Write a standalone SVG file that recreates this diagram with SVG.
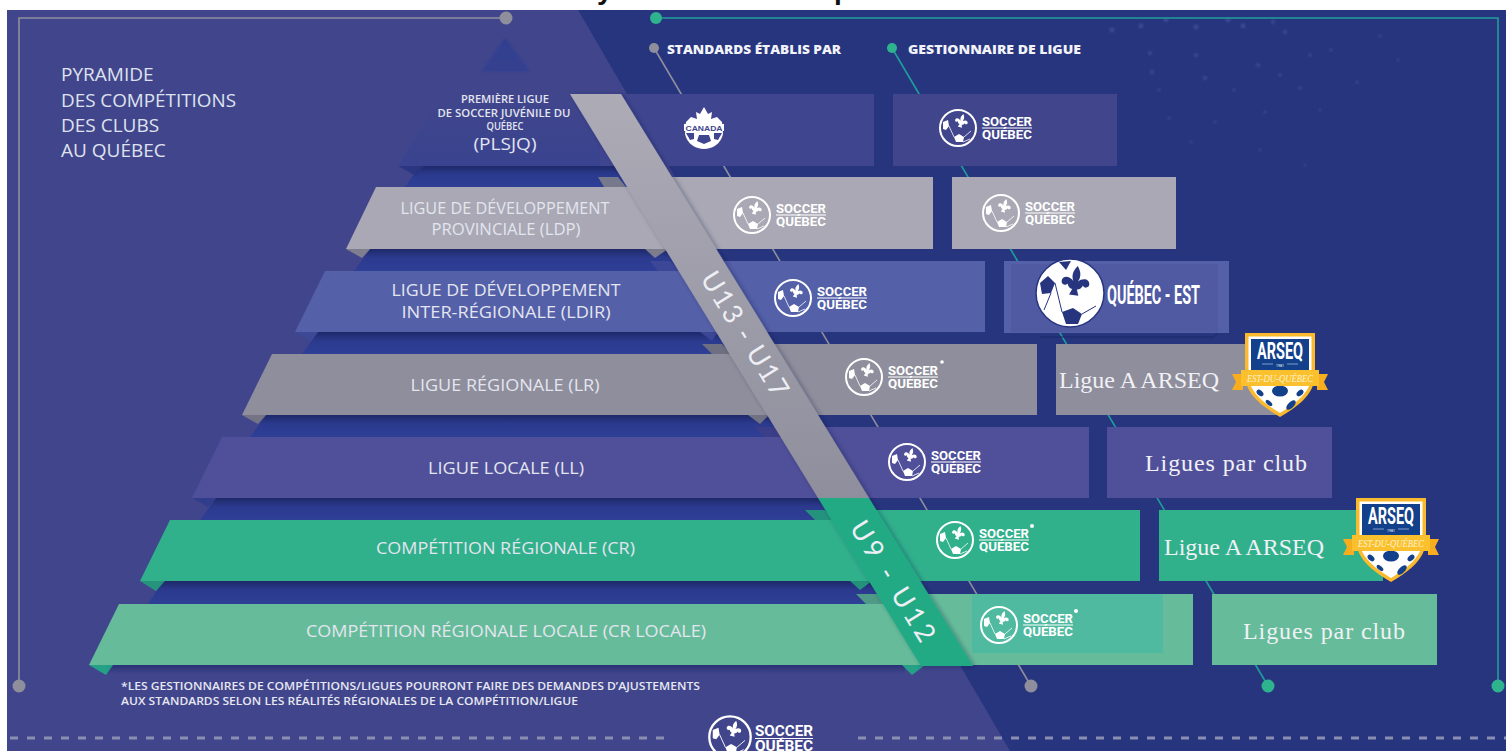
<svg xmlns="http://www.w3.org/2000/svg" width="1506" height="751" viewBox="0 0 1506 751">
<style>
.lab{font-family:"Open Sans","Liberation Sans",sans-serif;fill:#e3e5ef;text-anchor:middle}
.ttl{font-family:"Open Sans","Liberation Sans",sans-serif;fill:#dfe2ee;font-size:19px}
.hdr{font-family:"Open Sans","Liberation Sans",sans-serif;fill:#f2f3f8;font-size:13px;font-weight:800}
.note{font-family:"Open Sans","Liberation Sans",sans-serif;fill:#e6e7f1;font-size:10.5px;font-weight:600}
.lg{font-family:Roboto,"Liberation Sans",sans-serif;fill:#fff;font-weight:700;font-size:13px}
.ser{font-family:"Liberation Serif",serif;fill:#f0f1f5;font-size:24px}
.age{font-family:Lato,"Liberation Sans",sans-serif;fill:#eeeff4;font-size:27px;text-anchor:middle}
.ars{font-family:Roboto,"Liberation Sans",sans-serif;fill:#fff;font-weight:700;font-size:23px;text-anchor:middle}
.est{font-family:"Liberation Serif",serif;font-style:italic;fill:#fdf3d0;font-size:10.5px;text-anchor:middle}
.gl{stroke:#8f8e9c;stroke-width:1.6;fill:none}
.tl{stroke:#1f9e9a;stroke-width:1.6;fill:none}
.gd{fill:#8f8e9c}
.td{fill:#2fb38e}
.fold{opacity:.9}
</style>
<defs>
<linearGradient id="gap" x1="0" y1="0" x2="0" y2="1"><stop offset="0" stop-color="#1e2969"/><stop offset=".4" stop-color="#2b3a8e"/><stop offset="1" stop-color="#2e3f96"/></linearGradient>
<linearGradient id="under" x1="0" y1="0" x2="0" y2="1"><stop offset="0" stop-color="#1e2969" stop-opacity=".7"/><stop offset="1" stop-color="#1e2969" stop-opacity="0"/></linearGradient>
<linearGradient id="stripG" x1="0" y1="0" x2="0" y2="1"><stop offset="0" stop-color="#acabb6"/><stop offset="1" stop-color="#8f8e9c"/></linearGradient>
<linearGradient id="top" x1="0" y1="0" x2="0" y2="1"><stop offset="0" stop-color="#41468c"/><stop offset="1" stop-color="#39438f"/></linearGradient>
<linearGradient id="apex" x1="0" y1="0" x2="0" y2="1"><stop offset="0" stop-color="#2f3e90"/><stop offset="1" stop-color="#36418f"/></linearGradient>
<filter id="sh" x="-5%" y="-5%" width="110%" height="110%"><feDropShadow dx="2" dy="1" stdDeviation="2.5" flood-color="#10163f" flood-opacity=".35"/></filter>
<filter id="soft" x="-5%" y="-5%" width="110%" height="110%"><feGaussianBlur stdDeviation=".8"/></filter>
<path id="fl" d="M0-13C3-9 3-6 1.5-3 4-6 9-6 9-2 9 0 6 1 5-1 4 2 2 2 1.5 2L3 6H-3L-1.5 2C-2 2-4 2-5-1-6 1-9 0-9-2-9-6-4-6-1.5-3-3-6-3-9 0-13Z"/>
<g id="ball">
<circle r="18" fill="none" stroke="#fff" stroke-width="2"/>
<use href="#fl" fill="#fff" transform="translate(3,-5) rotate(15) scale(.72)"/>
<polygon fill="#fff" points="-4,9 1,6 6,9 5,14 -2,14"/>
<polygon fill="#fff" points="-15,-6 -10,-8 -9,-2 -12,2 -15,1"/>
<path d="M-9-2L-4 9M5 14L12 11M6 9L13 3" stroke="#fff" stroke-width=".8" fill="none"/>
</g>
<g id="shield">
<path fill="#fbb92d" d="M0 0H70V42C70 62 50 75 35 84 20 75 0 62 0 42Z"/>
<path fill="#fff" d="M3.500 3.500H66.500V42C66.500 60 48 72 35 80 22 72 3.500 60 3.500 42Z"/>
<path fill="#12408a" d="M6 6H64V40H6Z"/>
<ellipse cx="35" cy="58" rx="8" ry="5.500" fill="#12408a"/>
<ellipse cx="15" cy="60" rx="4" ry="2.500" fill="#12408a" transform="rotate(40 15 60)"/>
<ellipse cx="55" cy="60" rx="4" ry="2.500" fill="#12408a" transform="rotate(-40 55 60)"/>
<ellipse cx="24" cy="70" rx="4" ry="2" fill="#12408a" transform="rotate(40 24 70)"/>
<ellipse cx="46" cy="72" rx="6" ry="3" fill="#12408a" transform="rotate(-45 46 72)"/>
<path fill="#f7ad1e" d="M-13 41H-2V57H-8L-13 57-9 49ZM83 41H72V57H78L83 57 79 49Z"/>
<rect x="-4" y="37" width="78" height="16" fill="#fbc02d"/>
<path d="M17 31H28M42 31H53" stroke="#9fb4d8" stroke-width=".8"/>
</g>
</defs>
<rect width="1506" height="751" fill="#fff"/>
<text x="597" y="-1" font-family="Liberation Sans,sans-serif" font-weight="700" font-size="28" fill="#111">y</text>
<text x="834" y="-1" font-family="Liberation Sans,sans-serif" font-weight="700" font-size="28" fill="#111">p</text>
<rect x="7" y="10" width="1499" height="741" fill="#27357f"/>
<polygon points="7,10 578,10 1010,751 7,751" fill="#41468c"/>
<polygon points="505,38 481,72 531,72" fill="url(#apex)" filter="url(#soft)"/>
<g id="stars" fill="#4a5aa3" opacity=".6" filter="url(#soft)">
<circle cx="1112" cy="30" r="2.400"/><circle cx="1141" cy="26" r="2.400"/><circle cx="1166" cy="20" r="2.400"/><circle cx="1196" cy="27" r="2.400"/><circle cx="1228" cy="20" r="2.400"/><circle cx="1243" cy="26" r="2.400"/><circle cx="1273" cy="22" r="2"/><circle cx="1285" cy="32" r="2"/><circle cx="1150" cy="53" r="2"/><circle cx="1196" cy="55" r="2"/><circle cx="1152" cy="72" r="2"/><circle cx="1205" cy="78" r="2"/><circle cx="1258" cy="65" r="2"/><circle cx="1310" cy="55" r="1.800"/><circle cx="1280" cy="75" r="1.800"/><circle cx="1331" cy="50" r="1.600"/><circle cx="1159" cy="90" r="1.600"/><circle cx="1234" cy="90" r="1.600"/><circle cx="1300" cy="88" r="1.600"/><circle cx="1357" cy="82" r="1.500"/><circle cx="1169" cy="118" r="1.600"/><circle cx="1215" cy="122" r="1.500"/><circle cx="1265" cy="112" r="1.500"/><circle cx="1320" cy="110" r="1.300"/><circle cx="1191" cy="142" r="1.300"/><circle cx="1260" cy="150" r="1.300"/><circle cx="1305" cy="165" r="1.300"/><circle cx="1380" cy="36" r="1.500"/><circle cx="1398" cy="60" r="1.300"/>
</g>
<g id="connectors">
<path class="gl" d="M19 686V18H506"/>
<path class="tl" d="M656 18H1498V686"/>
<line class="gl" x1="654" y1="48" x2="1031" y2="686"/>
<line class="tl" x1="892" y1="48" x2="1268" y2="686"/>
<circle class="gd" cx="506" cy="18" r="6.500"/>
<circle class="gd" cx="19" cy="686" r="6.500"/>
<circle class="td" cx="656" cy="18" r="6"/>
<circle class="td" cx="1498" cy="686" r="6.500"/>
<circle class="td" cx="1268" cy="686" r="6.500"/>
<circle class="gd" cx="1031" cy="686" r="6.500"/>
<circle class="gd" cx="654" cy="48" r="5"/>
<circle class="td" cx="892" cy="48" r="5"/>
</g>
<g id="pyramid-gaps" fill="url(#gap)">
<polygon points="420,166 405,187 640,187 625,166"/>
<polygon points="370,249 354,271 690,271 675,249"/>
<polygon points="318,332 302,354 745,354 725,332"/>
<polygon points="266,415 250,437 790,437 775,415"/>
<polygon points="216,498 200,520 840,520 825,498"/>
<polygon points="163,581 148,604 890,604 875,581"/>
<polygon points="108,665 101,674 905,674 905,665" fill="url(#under)"/>
</g>
<g id="flaps" class="fold">
<polygon points="398,166 416,176 424,166" fill="#2a357f"/>
<polygon points="598,177 618,177 626,187 604,187" fill="#7f7f8c"/>
<polygon points="346,249 362,258 370,249" fill="#86858f"/>
<polygon points="645,249 655,258 668,249" fill="#86858f"/>
<polygon points="650,261 670,261 680,271 658,271" fill="#3e4a98"/>
<polygon points="295,332 311,341 318,332" fill="#3e4a98"/>
<polygon points="700,332 712,341 718,332" fill="#3e4a98"/>
<polygon points="702,344 722,344 732,354 712,354" fill="#76757f"/>
<polygon points="242,415 258,424 266,415" fill="#7a7986"/>
<polygon points="748,415 760,424 769,415" fill="#7a7986"/>
<polygon points="755,427 775,427 783,437 764,437" fill="#3d3f87"/>
<polygon points="192,498 208,507 216,498" fill="#2f3b8d"/>
<polygon points="805,510 825,510 834,520 815,520" fill="#249d7c"/>
<polygon points="140,581 156,591 165,581" fill="#249d7c"/>
<polygon points="850,581 860,590 872,581" fill="#249d7c"/>
<polygon points="856,594 878,594 886,604 866,604" fill="#52a586"/>
<polygon points="89,665 106,675 113,665" fill="#22ab87"/>
<polygon points="902,665 912,675 925,665" fill="#22ab87"/>
</g>
<g id="plsjq">
<polygon points="398,166 442,94 570,94 614,166" fill="url(#top)"/>
<rect x="600" y="94" width="274" height="72" fill="#3f468f"/>
<rect x="893" y="94" width="224" height="72" fill="#41468c"/>
<text class="lab" x="505" y="103" font-size="10" font-weight="600" textLength="88" lengthAdjust="spacingAndGlyphs">PREMIÈRE LIGUE</text>
<text class="lab" x="504" y="117" font-size="10.500" font-weight="600" textLength="133" lengthAdjust="spacingAndGlyphs">DE SOCCER JUVÉNILE DU</text>
<text class="lab" x="505" y="130" font-size="10" font-weight="600" textLength="37" lengthAdjust="spacingAndGlyphs">QUÉBEC</text>
<text class="lab" x="505" y="150" font-size="16" textLength="63" lengthAdjust="spacingAndGlyphs">(PLSJQ)</text>
</g>
<g id="ldp">
<polygon points="346,249 376,187 632,187 670,249" fill="#a9a8b4"/>
<rect x="640" y="177" width="293" height="72" fill="#a9a8b4"/>
<rect x="952" y="177" width="224" height="72" fill="#a9a8b4"/>
<text class="lab" x="505" y="214" font-size="16" textLength="209" lengthAdjust="spacingAndGlyphs">LIGUE DE DÉVELOPPEMENT</text>
<text class="lab" x="506" y="235" font-size="16" textLength="149" lengthAdjust="spacingAndGlyphs">PROVINCIALE (LDP)</text>
</g>
<g id="ldir">
<polygon points="295,332 325,271 684,271 720,332" fill="#5460a8"/>
<rect x="692" y="261" width="293" height="71" fill="#5460a8"/>
<rect x="1004" y="261" width="225" height="72" fill="#5460a8"/>
<rect x="1011" y="264" width="207" height="68" fill="#4f5aa3"/>
<text class="lab" x="506" y="296" font-size="16.500" textLength="229" lengthAdjust="spacingAndGlyphs">LIGUE DE DÉVELOPPEMENT</text>
<text class="lab" x="506" y="318" font-size="16.500" textLength="209" lengthAdjust="spacingAndGlyphs">INTER-RÉGIONALE (LDIR)</text>
</g>
<g id="lr">
<polygon points="242,415 272,354 735,354 771,415" fill="#8f8e9c"/>
<rect x="744" y="344" width="293" height="71" fill="#8f8e9c"/>
<rect x="1056" y="344" width="224" height="71" fill="#8f8e9c"/>
<text class="lab" x="505" y="391" font-size="16" textLength="189" lengthAdjust="spacingAndGlyphs">LIGUE RÉGIONALE (LR)</text>
<text class="ser" x="1059" y="388" textLength="160">Ligue A ARSEQ</text>
</g>
<g id="ll">
<polygon points="192,498 222,437 786,437 822,498" fill="#50509a"/>
<rect x="795" y="427" width="294" height="71" fill="#50509a"/>
<rect x="1107" y="427" width="225" height="71" fill="#50509a"/>
<text class="lab" x="506" y="474" font-size="16" textLength="156" lengthAdjust="spacingAndGlyphs">LIGUE LOCALE (LL)</text>
<text class="ser" x="1145" y="471" textLength="162">Ligues par club</text>
</g>
<g id="cr">
<polygon points="140,581 170,520 837,520 874,581" fill="#31b08c"/>
<rect x="846" y="510" width="294" height="71" fill="#31b08c"/>
<rect x="1159" y="510" width="224" height="71" fill="#31b08c"/>
<text class="lab" x="505.500" y="554" font-size="15.500" textLength="259" lengthAdjust="spacingAndGlyphs">COMPÉTITION RÉGIONALE (CR)</text>
<text class="ser" x="1164" y="555" textLength="160">Ligue A ARSEQ</text>
</g>
<g id="crl">
<polygon points="89,665 119,604 889,604 925,665" fill="#66bc9a"/>
<rect x="897" y="594" width="296" height="71" fill="#66bc9a"/>
<rect x="972" y="594" width="191" height="59" fill="#4fba9f"/>
<rect x="1212" y="594" width="225" height="71" fill="#66bc9a"/>
<text class="lab" x="506" y="637" font-size="16" textLength="400" lengthAdjust="spacingAndGlyphs">COMPÉTITION RÉGIONALE LOCALE (CR LOCALE)</text>
<text class="ser" x="1243" y="639" textLength="162">Ligues par club</text>
</g>
<g id="strip" filter="url(#sh)">
<polygon points="570,94 621,94 869,498 818,498" fill="url(#stripG)"/>
<polygon points="818,498 869,498 973,666 921,666" fill="#20aa85"/>
</g>
<text class="age" transform="translate(737,339) rotate(58.400)" textLength="142">U13 - U17</text>
<text class="age" transform="translate(885,586) rotate(58.400)" textLength="137">U9 - U12</text>
<g id="title">
<text class="ttl" x="61" y="81">PYRAMIDE</text>
<text class="ttl" x="61" y="107" textLength="175" lengthAdjust="spacingAndGlyphs">DES COMPÉTITIONS</text>
<text class="ttl" x="61" y="132">DES CLUBS</text>
<text class="ttl" x="61" y="157">AU QUÉBEC</text>
</g>
<text class="hdr" x="667" y="54" textLength="174" lengthAdjust="spacingAndGlyphs">STANDARDS ÉTABLIS PAR</text>
<text class="hdr" x="908" y="54" textLength="173" lengthAdjust="spacingAndGlyphs">GESTIONNAIRE DE LIGUE</text>
<g id="canada" transform="translate(704,128)">
<path fill="#fff" d="M0-21L4-14 8-16 7-9 13-11 18-6 19 6C17 16 8 21 0 21-8 21-17 16-19 6L-18-6-13-11-7-9-8-16-4-14Z"/>
<rect x="-20" y="-4" width="40" height="7" fill="#fff"/>
<text x="0" y="2.500" font-family="Liberation Sans,sans-serif" font-size="7" font-weight="700" fill="#3f468f" text-anchor="middle" textLength="37" lengthAdjust="spacingAndGlyphs">CANADA</text>
<polygon fill="#3f468f" points="-5,7 5,7 7,13 0,16 -7,13"/>
<polygon fill="#3f468f" points="-18,5 -10,5 -10,11 -14,12"/>
<polygon fill="#3f468f" points="18,5 10,5 10,11 14,12"/>
</g>
<g id="sq1" transform="translate(958,128)"><use href="#ball"/><text class="lg" x="24" y="-2" textLength="50" lengthAdjust="spacingAndGlyphs">SOCCER</text><rect x="24" y="-.5" width="50" height="1" fill="#fff"/><text class="lg" x="24" y="11" textLength="50" lengthAdjust="spacingAndGlyphs">QUÉBEC</text></g>
<g id="sq2" transform="translate(752,215)"><use href="#ball"/><text class="lg" x="24" y="-2" textLength="50" lengthAdjust="spacingAndGlyphs">SOCCER</text><rect x="24" y="-.5" width="50" height="1" fill="#fff"/><text class="lg" x="24" y="11" textLength="50" lengthAdjust="spacingAndGlyphs">QUÉBEC</text></g>
<g id="sq3" transform="translate(1001,213)"><use href="#ball"/><text class="lg" x="24" y="-2" textLength="50" lengthAdjust="spacingAndGlyphs">SOCCER</text><rect x="24" y="-.5" width="50" height="1" fill="#fff"/><text class="lg" x="24" y="11" textLength="50" lengthAdjust="spacingAndGlyphs">QUÉBEC</text></g>
<g id="sq4" transform="translate(793,298)"><use href="#ball"/><text class="lg" x="24" y="-2" textLength="50" lengthAdjust="spacingAndGlyphs">SOCCER</text><rect x="24" y="-.5" width="50" height="1" fill="#fff"/><text class="lg" x="24" y="11" textLength="50" lengthAdjust="spacingAndGlyphs">QUÉBEC</text></g>
<g id="sq5" transform="translate(864,377)"><use href="#ball"/><text class="lg" x="24" y="-2" textLength="50" lengthAdjust="spacingAndGlyphs">SOCCER</text><rect x="24" y="-.5" width="50" height="1" fill="#fff"/><text class="lg" x="24" y="11" textLength="50" lengthAdjust="spacingAndGlyphs">QUÉBEC</text><circle cx="78" cy="-15" r="1.800" fill="#fff"/></g>
<g id="sq6" transform="translate(907,462)"><use href="#ball"/><text class="lg" x="24" y="-2" textLength="50" lengthAdjust="spacingAndGlyphs">SOCCER</text><rect x="24" y="-.5" width="50" height="1" fill="#fff"/><text class="lg" x="24" y="11" textLength="50" lengthAdjust="spacingAndGlyphs">QUÉBEC</text></g>
<g id="sq7" transform="translate(955,540)"><use href="#ball"/><text class="lg" x="24" y="-2" textLength="50" lengthAdjust="spacingAndGlyphs">SOCCER</text><rect x="24" y="-.5" width="50" height="1" fill="#fff"/><text class="lg" x="24" y="11" textLength="50" lengthAdjust="spacingAndGlyphs">QUÉBEC</text><circle cx="77" cy="-14" r="2" fill="#fff"/></g>
<g id="sq8" transform="translate(999,625)"><use href="#ball"/><text class="lg" x="24" y="-2" textLength="50" lengthAdjust="spacingAndGlyphs">SOCCER</text><rect x="24" y="-.5" width="50" height="1" fill="#fff"/><text class="lg" x="24" y="11" textLength="50" lengthAdjust="spacingAndGlyphs">QUÉBEC</text><circle cx="77" cy="-14" r="2" fill="#fff"/></g>
<g id="qc-est">
<circle cx="1070" cy="293" r="34" fill="#fff" stroke="#27357f" stroke-width="1.500"/>
<use href="#fl" fill="#27357f" transform="translate(1075,286) rotate(8) scale(1.550)"/>
<polygon fill="#27357f" points="1062,312 1073,308 1082,314 1078,324 1066,324"/>
<polygon fill="#27357f" points="1040,283 1048,276 1055,283 1051,293 1042,294"/>
<polygon fill="#27357f" points="1059,262 1071,261 1066,270"/>
<path d="M1055 283L1062 312M1051 293L1044 310M1082 314L1096 306" stroke="#27357f" stroke-width="1" fill="none"/>
<text x="1107" y="304" font-family="Roboto,Liberation Sans,sans-serif" font-weight="700" font-size="25" fill="#fff" textLength="93" lengthAdjust="spacingAndGlyphs">QUÉBEC - EST</text>
<path d="M1040 337H1214L1218 333" stroke="#1e2969" stroke-width="1" fill="none"/>
</g>
<g id="arseq1" transform="translate(1245,333)"><use href="#shield"/><text class="ars" x="35" y="26" textLength="46" lengthAdjust="spacingAndGlyphs">ARSEQ</text><text x="35" y="33.500" font-family="Roboto,sans-serif" font-size="3.500" fill="#fff" text-anchor="middle">1981</text><text class="est" x="35" y="48.500" textLength="66" lengthAdjust="spacingAndGlyphs">EST-DU-QUÉBEC</text></g>
<g id="arseq2" transform="translate(1356,498)"><use href="#shield"/><text class="ars" x="35" y="26" textLength="46" lengthAdjust="spacingAndGlyphs">ARSEQ</text><text x="35" y="33.500" font-family="Roboto,sans-serif" font-size="3.500" fill="#fff" text-anchor="middle">1981</text><text class="est" x="35" y="48.500" textLength="66" lengthAdjust="spacingAndGlyphs">EST-DU-QUÉBEC</text></g>
<g id="footnote">
<text class="note" x="121" y="690" textLength="579" lengthAdjust="spacingAndGlyphs">*LES GESTIONNAIRES DE COMPÉTITIONS/LIGUES POURRONT FAIRE DES DEMANDES D’AJUSTEMENTS</text>
<text class="note" x="121" y="705" textLength="457" lengthAdjust="spacingAndGlyphs">AUX STANDARDS SELON LES RÉALITÉS RÉGIONALES DE LA COMPÉTITION/LIGUE</text>
</g>
<path d="M10 738H665M858 738H1506" stroke="#8a8fb2" stroke-width="3" stroke-dasharray="8 9" fill="none"/>
<g id="sq-footer" transform="translate(730,737)"><use href="#ball" transform="scale(1.150)"/><text class="lg" x="25" y="-1" textLength="58" lengthAdjust="spacingAndGlyphs" style="font-size:15px">SOCCER</text><rect x="25" y="1" width="58" height="1" fill="#fff"/><text class="lg" x="25" y="14" textLength="58" lengthAdjust="spacingAndGlyphs" style="font-size:15px">QUÉBEC</text></g>
</svg>
